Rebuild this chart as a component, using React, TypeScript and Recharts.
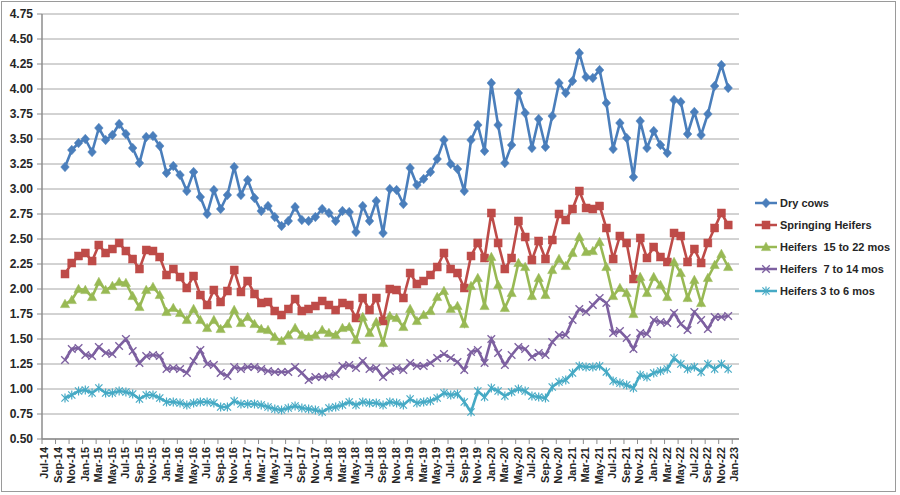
import React from "react";
import { LineChart, Line, XAxis, YAxis, CartesianGrid } from "recharts";

const TICK_LABELS = [
  "Jul-14", "Sep-14", "Nov-14",
  "Jan-15", "Mar-15", "May-15", "Jul-15", "Sep-15", "Nov-15",
  "Jan-16", "Mar-16", "May-16", "Jul-16", "Sep-16", "Nov-16",
  "Jan-17", "Mar-17", "May-17", "Jul-17", "Sep-17", "Nov-17",
  "Jan-18", "Mar-18", "May-18", "Jul-18", "Sep-18", "Nov-18",
  "Jan-19", "Mar-19", "May-19", "Jul-19", "Sep-19", "Nov-19",
  "Jan-20", "Mar-20", "May-20", "Jul-20", "Sep-20", "Nov-20",
  "Jan-21", "Mar-21", "May-21", "Jul-21", "Sep-21", "Nov-21",
  "Jan-22", "Mar-22", "May-22", "Jul-22", "Sep-22", "Nov-22",
  "Jan-23",
];

const MONTHS = [
  "Oct-14", "Nov-14", "Dec-14",
  "Jan-15", "Feb-15", "Mar-15", "Apr-15", "May-15", "Jun-15", "Jul-15", "Aug-15", "Sep-15", "Oct-15", "Nov-15", "Dec-15",
  "Jan-16", "Feb-16", "Mar-16", "Apr-16", "May-16", "Jun-16", "Jul-16", "Aug-16", "Sep-16", "Oct-16", "Nov-16", "Dec-16",
  "Jan-17", "Feb-17", "Mar-17", "Apr-17", "May-17", "Jun-17", "Jul-17", "Aug-17", "Sep-17", "Oct-17", "Nov-17", "Dec-17",
  "Jan-18", "Feb-18", "Mar-18", "Apr-18", "May-18", "Jun-18", "Jul-18", "Aug-18", "Sep-18", "Oct-18", "Nov-18", "Dec-18",
  "Jan-19", "Feb-19", "Mar-19", "Apr-19", "May-19", "Jun-19", "Jul-19", "Aug-19", "Sep-19", "Oct-19", "Nov-19", "Dec-19",
  "Jan-20", "Feb-20", "Mar-20", "Apr-20", "May-20", "Jun-20", "Jul-20", "Aug-20", "Sep-20", "Oct-20", "Nov-20", "Dec-20",
  "Jan-21", "Feb-21", "Mar-21", "Apr-21", "May-21", "Jun-21", "Jul-21", "Aug-21", "Sep-21", "Oct-21", "Nov-21", "Dec-21",
  "Jan-22", "Feb-22", "Mar-22", "Apr-22", "May-22", "Jun-22", "Jul-22", "Aug-22", "Sep-22", "Oct-22", "Nov-22", "Dec-22",
];

const DRY_COWS = [
  3.22, 3.39, 3.46, 3.50, 3.37, 3.61, 3.49, 3.54, 3.65, 3.55,
  3.41, 3.26, 3.52, 3.53, 3.43, 3.16, 3.23, 3.14, 2.98, 3.17,
  2.92, 2.75, 2.99, 2.80, 2.94, 3.22, 2.94, 3.09, 2.91, 2.78,
  2.83, 2.72, 2.63, 2.68, 2.82, 2.69, 2.68, 2.72, 2.80, 2.76,
  2.68, 2.78, 2.77, 2.57, 2.83, 2.68, 2.88, 2.56, 3.00, 2.99,
  2.85, 3.21, 3.04, 3.10, 3.17, 3.30, 3.49, 3.25, 3.20, 2.98,
  3.49, 3.64, 3.38, 4.06, 3.64, 3.26, 3.44, 3.96, 3.76, 3.41,
  3.70, 3.42, 3.73, 4.06, 3.96, 4.08, 4.36, 4.12, 4.11, 4.19,
  3.86, 3.40, 3.66, 3.51, 3.12, 3.68, 3.41, 3.58, 3.44, 3.36,
  3.89, 3.87, 3.55, 3.77, 3.54, 3.75, 4.03, 4.24, 4.01,
];

const SPRINGING_HEIFERS = [
  2.15, 2.26, 2.33, 2.36, 2.28, 2.44, 2.36, 2.40, 2.46, 2.38,
  2.30, 2.20, 2.39, 2.38, 2.32, 2.14, 2.20, 2.12, 2.01, 2.13,
  1.94, 1.84, 1.99, 1.87, 1.98, 2.19, 1.97, 2.08, 1.95, 1.86,
  1.87, 1.78, 1.74, 1.80, 1.90, 1.78, 1.80, 1.83, 1.88, 1.84,
  1.79, 1.86, 1.84, 1.71, 1.91, 1.79, 1.91, 1.68, 2.00, 1.99,
  1.91, 2.16, 2.05, 2.08, 2.14, 2.22, 2.36, 2.20, 2.16, 2.01,
  2.33, 2.46, 2.31, 2.76, 2.46, 2.20, 2.31, 2.68, 2.52, 2.29,
  2.48, 2.30, 2.49, 2.75, 2.69, 2.80, 2.98, 2.81, 2.80, 2.83,
  2.61, 2.30, 2.53, 2.46, 2.10, 2.51, 2.31, 2.42, 2.32, 2.27,
  2.56, 2.53, 2.27, 2.40, 2.26, 2.46, 2.61, 2.76, 2.64,
];

const HEIFERS_15_22 = [
  1.85, 1.89, 2.00, 1.99, 1.92, 2.07, 1.99, 2.03, 2.07, 2.06,
  1.93, 1.82, 1.99, 2.02, 1.94, 1.77, 1.81, 1.76, 1.69, 1.80,
  1.69, 1.61, 1.69, 1.60, 1.65, 1.79, 1.66, 1.72, 1.65, 1.60,
  1.59, 1.52, 1.48, 1.54, 1.61, 1.54, 1.52, 1.54, 1.59, 1.56,
  1.54, 1.61, 1.62, 1.49, 1.72, 1.56, 1.67, 1.46, 1.73, 1.71,
  1.62, 1.80, 1.68, 1.74, 1.78, 1.92, 1.98, 1.80, 1.83, 1.65,
  2.03, 2.11, 1.83, 2.32, 2.04, 1.81, 1.96, 2.26, 2.22, 1.93,
  2.11, 1.94, 2.19, 2.30, 2.23, 2.36, 2.52, 2.37, 2.38, 2.47,
  2.22, 1.93, 2.01, 1.96, 1.75, 2.12, 1.96, 2.12, 2.04, 1.92,
  2.27, 2.16, 1.91, 2.09, 1.86, 2.11, 2.24, 2.35, 2.22,
];

const HEIFERS_7_14 = [
  1.29, 1.40, 1.41, 1.34, 1.33, 1.42, 1.36, 1.35, 1.43, 1.50,
  1.38, 1.26, 1.33, 1.34, 1.33, 1.20, 1.21, 1.20, 1.16, 1.28,
  1.39, 1.25, 1.24, 1.16, 1.13, 1.22, 1.20, 1.22, 1.22, 1.20,
  1.18, 1.17, 1.17, 1.17, 1.22, 1.16, 1.09, 1.12, 1.12, 1.13,
  1.15, 1.23, 1.24, 1.21, 1.28, 1.20, 1.21, 1.12, 1.18, 1.21,
  1.19, 1.26, 1.23, 1.23, 1.26, 1.31, 1.35, 1.31, 1.27, 1.19,
  1.37, 1.39, 1.26, 1.50, 1.36, 1.24, 1.34, 1.42, 1.40, 1.32,
  1.36, 1.34, 1.47, 1.54, 1.54, 1.69, 1.80, 1.77, 1.84, 1.91,
  1.86, 1.56, 1.58, 1.51, 1.40, 1.56, 1.55, 1.69, 1.67, 1.66,
  1.76, 1.65, 1.59, 1.77, 1.69, 1.60, 1.72, 1.72, 1.73,
];

const HEIFERS_3_6 = [
  0.91, 0.94, 0.98, 0.99, 0.96, 1.01, 0.96, 0.96, 0.98, 0.97,
  0.95, 0.90, 0.94, 0.94, 0.91, 0.87, 0.87, 0.86, 0.84, 0.86,
  0.87, 0.87, 0.86, 0.82, 0.82, 0.88, 0.85, 0.85, 0.85, 0.84,
  0.82, 0.80, 0.79, 0.81, 0.83, 0.81, 0.80, 0.79, 0.77, 0.81,
  0.82, 0.84, 0.87, 0.84, 0.87, 0.86, 0.86, 0.84, 0.87, 0.86,
  0.84, 0.90, 0.86, 0.87, 0.88, 0.91, 0.96, 0.94, 0.95, 0.87,
  0.77, 0.98, 0.92, 1.01, 0.98, 0.93, 0.97, 1.00, 0.98, 0.93,
  0.92, 0.91, 1.02, 1.07, 1.09, 1.16, 1.23, 1.22, 1.22, 1.23,
  1.17, 1.08, 1.06, 1.04, 1.01, 1.14, 1.12, 1.16, 1.18, 1.20,
  1.31, 1.25, 1.20, 1.22, 1.17, 1.25, 1.20, 1.25, 1.20,
];

const Y_TICKS = [0.5, 0.75, 1.0, 1.25, 1.5, 1.75, 2.0, 2.25, 2.5, 2.75, 3.0, 3.25, 3.5, 3.75, 4.0, 4.25, 4.5, 4.75];

const FIRST_MONTH_INDEX = 3; // Oct-14 relative to Jul-14
const POINT_OFFSET = 0.4;

const rows = MONTHS.map((m, i) => ({
  month: m,
  x: FIRST_MONTH_INDEX + i + POINT_OFFSET,
  dry: DRY_COWS[i],
  spring: SPRINGING_HEIFERS[i],
  h1522: HEIFERS_15_22[i],
  h714: HEIFERS_7_14[i],
  h36: HEIFERS_3_6[i],
}));

const X_TICKS = TICK_LABELS.map((_, i) => i * 2);

const FONT = "'Liberation Sans', Arial, sans-serif";
const TEXT_COLOR = "#262626";
const AXIS_COLOR = "#8c8c8c";

const COLORS = {
  dry: "#4A7EBB",
  spring: "#BE4B48",
  h1522: "#98B954",
  h714: "#7D60A0",
  h36: "#46AAC5",
};

type Shape = "diamond" | "square" | "triangle" | "x" | "star";

function Marker({ shape, cx, cy, color }: { shape: Shape; cx: number; cy: number; color: string }) {
  if (shape === "diamond") {
    return <path d={`M${cx},${cy - 4.8}L${cx + 4.3},${cy}L${cx},${cy + 4.8}L${cx - 4.3},${cy}Z`} fill={color} stroke={color} strokeWidth={0.5} />;
  }
  if (shape === "square") {
    return <rect x={cx - 4} y={cy - 4} width={8} height={8} fill={color} stroke={color} strokeWidth={0.5} />;
  }
  if (shape === "triangle") {
    return <path d={`M${cx},${cy - 4.8}L${cx + 4.6},${cy + 3.6}L${cx - 4.6},${cy + 3.6}Z`} fill={color} stroke={color} strokeWidth={0.5} />;
  }
  if (shape === "x") {
    return (
      <g stroke={color} strokeWidth={1.3}>
        <line x1={cx - 3.8} y1={cy - 3.8} x2={cx + 3.8} y2={cy + 3.8} />
        <line x1={cx - 3.8} y1={cy + 3.8} x2={cx + 3.8} y2={cy - 3.8} />
      </g>
    );
  }
  return (
    <g stroke={color} strokeWidth={1.2}>
      <line x1={cx - 3.6} y1={cy - 3.6} x2={cx + 3.6} y2={cy + 3.6} />
      <line x1={cx - 3.6} y1={cy + 3.6} x2={cx + 3.6} y2={cy - 3.6} />
      <line x1={cx} y1={cy - 4.5} x2={cx} y2={cy + 4.5} />
    </g>
  );
}

function makeDot(shape: Shape, color: string) {
  return (props: any) => {
    const { cx, cy, index } = props;
    if (cx == null || cy == null) return <g key={`e-${shape}-${index}`} />;
    return (
      <g key={`d-${shape}-${index}`}>
        <Marker shape={shape} cx={cx} cy={cy} color={color} />
      </g>
    );
  };
}

const SERIES: { key: string; name: string; shape: Shape; color: string }[] = [
  { key: "dry", name: "Dry cows", shape: "diamond", color: COLORS.dry },
  { key: "spring", name: "Springing Heifers", shape: "square", color: COLORS.spring },
  { key: "h1522", name: "Heifers  15 to 22 mos", shape: "triangle", color: COLORS.h1522 },
  { key: "h714", name: "Heifers  7 to 14 mos", shape: "x", color: COLORS.h714 },
  { key: "h36", name: "Heifers 3 to 6 mos", shape: "star", color: COLORS.h36 },
];

function XTick(props: any) {
  const { x, y, payload } = props;
  const label = TICK_LABELS[Math.round(payload.value / 2)] ?? "";
  return (
    <g transform={`translate(${x},${y + 1})`}>
      <text
        transform="rotate(-90)"
        textAnchor="end"
        dy={6}
        fontSize={11}
        fontWeight="bold"
        fontFamily={FONT}
        fill={TEXT_COLOR}
      >
        {label}
      </text>
    </g>
  );
}

function YTick(props: any) {
  const { x, y, payload } = props;
  return (
    <text x={x} y={y} dy={4} textAnchor="end" fontSize={12} fontWeight="bold" fontFamily={FONT} fill={TEXT_COLOR}>
      {Number(payload.value).toFixed(2)}
    </text>
  );
}

function LegendBox() {
  return (
    <div style={{ position: "absolute", left: 755, top: 192, fontFamily: FONT }}>
      {SERIES.map((s) => (
        <div key={s.key} style={{ display: "flex", alignItems: "center", height: 22 }}>
          <svg width={24} height={14} style={{ display: "block" }}>
            <line x1={0} y1={7} x2={22} y2={7} stroke={s.color} strokeWidth={2.5} />
            <Marker shape={s.shape} cx={11} cy={7} color={s.color} />
          </svg>
          <span style={{ fontSize: 11, fontWeight: "bold", color: TEXT_COLOR, whiteSpace: "pre", marginLeft: 1 }}>
            {s.name}
          </span>
        </div>
      ))}
    </div>
  );
}

export default function App() {
  return (
    <div style={{ position: "absolute", left: 0, top: 0, width: 900, height: 495, background: "#fff", overflow: "hidden" }}>
      <div
        style={{
          position: "absolute",
          left: 1,
          top: 1,
          width: 895,
          height: 491,
          border: "1px solid #9a9a9a",
          boxSizing: "border-box",
        }}
      />
      <div style={{ position: "absolute", left: 0, top: 0 }}>
        <LineChart width={900} height={495} data={rows} margin={{ top: 14, right: 161, bottom: 0, left: 0 }}>
          <CartesianGrid horizontal vertical={false} stroke="#a6a6a6" strokeWidth={1} />
          <XAxis
            type="number"
            dataKey="x"
            domain={[0, 103]}
            ticks={X_TICKS}
            interval={0}
            allowDataOverflow
            height={56}
            tickSize={5}
            tickMargin={2}
            tick={<XTick />}
            axisLine={{ stroke: AXIS_COLOR, strokeWidth: 1.5 }}
            tickLine={{ stroke: AXIS_COLOR }}
          />
          <YAxis
            type="number"
            domain={[0.5, 4.75]}
            ticks={Y_TICKS}
            interval={0}
            allowDataOverflow
            width={42}
            tickSize={5}
            tickMargin={4}
            tick={<YTick />}
            axisLine={{ stroke: AXIS_COLOR, strokeWidth: 1.5 }}
            tickLine={{ stroke: AXIS_COLOR }}
          />
          {SERIES.map((s) => (
            <Line
              key={s.key}
              type="linear"
              dataKey={s.key}
              name={s.name}
              stroke={s.color}
              strokeWidth={2.6}
              dot={makeDot(s.shape, s.color)}
              activeDot={false}
              isAnimationActive={false}
            />
          ))}
        </LineChart>
      </div>
      <LegendBox />
    </div>
  );
}
